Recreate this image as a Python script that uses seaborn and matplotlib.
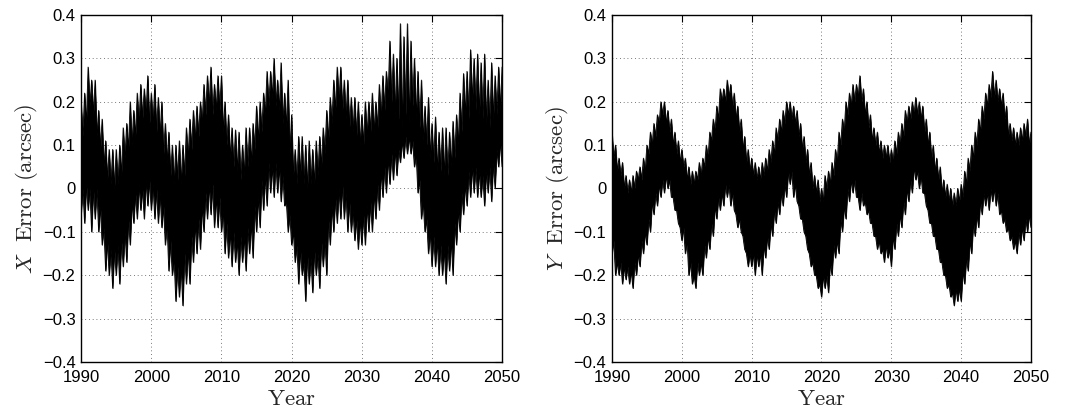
import numpy as np
import pandas as pd
import matplotlib
matplotlib.use("Agg")
import matplotlib.pyplot as plt
import seaborn as sns

# ---------------- data ----------------
# X error: spike tips every 0.5 yr (1990.0 ... 2050.0) and the body edge between them (t + 0.25)
x_upper_tips = [
    0.20, 0.22, 0.28, 0.25, 0.25, 0.18, 0.16, 0.11, 0.09, 0.09,
    0.09, 0.10, 0.14, 0.15, 0.20, 0.18, 0.22, 0.24, 0.23, 0.26,
    0.22, 0.24, 0.21, 0.20, 0.15, 0.13, 0.10, 0.10, 0.11, 0.10,
    0.14, 0.16, 0.18, 0.19, 0.20, 0.24, 0.26, 0.28, 0.24, 0.26,
    0.26, 0.20, 0.17, 0.14, 0.135, 0.13, 0.10, 0.14, 0.14, 0.15,
    0.19, 0.20, 0.22, 0.27, 0.27, 0.30, 0.25, 0.29, 0.22, 0.25,
    0.17, 0.09, 0.12, 0.12, 0.10, 0.11, 0.09, 0.11, 0.12, 0.14,
    0.18, 0.21, 0.25, 0.28, 0.28, 0.25, 0.25, 0.21, 0.21, 0.20,
    0.17, 0.20, 0.20, 0.22, 0.20, 0.24, 0.26, 0.27, 0.34, 0.31,
    0.30, 0.38, 0.35, 0.38, 0.34, 0.30, 0.27, 0.25, 0.19, 0.21,
    0.15, 0.165, 0.13, 0.14, 0.14, 0.13, 0.155, 0.17, 0.22, 0.265,
    0.27, 0.32, 0.30, 0.31, 0.29, 0.31, 0.25, 0.29, 0.26, 0.28,
    0.28,
]
x_upper_notches = [
    0.12, 0.15, 0.19, 0.17, 0.12, 0.09, 0.05, 0.02, 0.01, 0.00,
    0.01, 0.03, 0.07, 0.09, 0.10, 0.12, 0.15, 0.16, 0.17, 0.15,
    0.15, 0.13, 0.12, 0.08, 0.06, 0.03, 0.01, 0.02, 0.01, 0.03,
    0.07, 0.09, 0.11, 0.12, 0.15, 0.17, 0.19, 0.17, 0.18, 0.18,
    0.13, 0.10, 0.07, 0.05, 0.04, 0.02, 0.03, 0.05, 0.06, 0.09,
    0.11, 0.13, 0.17, 0.19, 0.21, 0.19, 0.18, 0.15, 0.14, 0.08,
    0.03, 0.01, 0.03, 0.01, 0.00, 0.01, 0.01, 0.03, 0.05, 0.08,
    0.11, 0.15, 0.18, 0.20, 0.18, 0.16, 0.14, 0.13, 0.12, 0.10,
    0.10, 0.12, 0.13, 0.13, 0.14, 0.16, 0.18, 0.21, 0.20, 0.17,
    0.16, 0.14, 0.17, 0.15, 0.19, 0.16, 0.14, 0.11, 0.10, 0.07,
    0.06, 0.04, 0.04, 0.03, 0.03, 0.05, 0.07, 0.10, 0.13, 0.17,
    0.16, 0.20, 0.18, 0.17, 0.16, 0.15, 0.14, 0.16, 0.17, 0.18,
]
x_lower_tips = [
    -0.06, -0.08, -0.05, -0.10, -0.07, -0.10, -0.13, -0.19, -0.20, -0.23,
    -0.20, -0.22, -0.18, -0.17, -0.13, -0.08, -0.07, -0.05, -0.07, -0.04,
    -0.05, -0.07, -0.08, -0.09, -0.13, -0.19, -0.20, -0.26, -0.25, -0.27,
    -0.22, -0.22, -0.17, -0.15, -0.14, -0.10, -0.07, -0.06, -0.09, -0.09,
    -0.10, -0.15, -0.16, -0.18, -0.17, -0.20, -0.17, -0.19, -0.15, -0.16,
    -0.10, -0.09, -0.05, -0.04, -0.01, -0.02, -0.01, -0.03, -0.04, -0.10,
    -0.13, -0.17, -0.22, -0.20, -0.26, -0.22, -0.24, -0.20, -0.23, -0.18,
    -0.20, -0.13, -0.10, -0.08, -0.07, -0.07, -0.10, -0.10, -0.12, -0.14,
    -0.13, -0.13, -0.10, -0.10, -0.07, -0.05, -0.02, -0.01, 0.01, 0.02,
    0.03, 0.06, 0.07, 0.08, 0.08, 0.05, -0.01, -0.07, -0.10, -0.15,
    -0.18, -0.18, -0.20, -0.20, -0.22, -0.19, -0.20, -0.13, -0.10, -0.06,
    -0.04, -0.02, -0.01, -0.02, -0.02, -0.04, -0.01, -0.03, 0.00, 0.05,
    0.05,
]
x_lower_notches = [
    0.00, 0.01, 0.00, 0.00, 0.00, -0.04, -0.09, -0.12, -0.14, -0.14,
    -0.13, -0.12, -0.10, -0.07, -0.03, -0.01, 0.01, 0.00, 0.02, 0.02,
    0.01, 0.00, -0.01, -0.04, -0.08, -0.12, -0.16, -0.18, -0.18, -0.15,
    -0.14, -0.11, -0.08, -0.07, -0.04, -0.01, 0.01, 0.01, -0.02, -0.02,
    -0.05, -0.08, -0.10, -0.10, -0.12, -0.11, -0.11, -0.09, -0.08, -0.04,
    -0.02, 0.02, 0.03, 0.06, 0.05, 0.06, 0.05, 0.03, -0.03, -0.06,
    -0.10, -0.13, -0.14, -0.17, -0.15, -0.16, -0.14, -0.15, -0.12, -0.12,
    -0.07, -0.04, -0.02, 0.00, 0.01, -0.01, -0.03, -0.05, -0.07, -0.07,
    -0.06, -0.04, -0.03, -0.01, 0.01, 0.04, 0.05, 0.07, 0.08, 0.09,
    0.09, 0.11, 0.12, 0.12, 0.11, 0.08, 0.02, -0.03, -0.07, -0.10,
    -0.11, -0.12, -0.13, -0.14, -0.13, -0.12, -0.08, -0.05, -0.01, 0.01,
    0.04, 0.05, 0.05, 0.04, 0.03, 0.04, 0.05, 0.06, 0.09, 0.11,
]

# Y error: envelope tips every 0.5 yr (1990.0 ... 2050.0) and body edge between them (t + 0.25)
y_upper_tips = [
    0.13, 0.10, 0.07, 0.06, 0.03, 0.02, 0.03, 0.04, 0.05, 0.07,
    0.10, 0.13, 0.15, 0.17, 0.20, 0.20, 0.18, 0.16, 0.13, 0.11,
    0.09, 0.07, 0.05, 0.04, 0.04, 0.06, 0.07, 0.10, 0.13, 0.16,
    0.19, 0.23, 0.23, 0.25, 0.24, 0.22, 0.19, 0.16, 0.12, 0.09,
    0.07, 0.06, 0.05, 0.06, 0.07, 0.09, 0.11, 0.14, 0.16, 0.18,
    0.20, 0.20, 0.19, 0.18, 0.15, 0.12, 0.09, 0.06, 0.03, 0.02,
    0.00, 0.03, 0.04, 0.06, 0.09, 0.13, 0.16, 0.20, 0.22, 0.24,
    0.24, 0.26, 0.23, 0.20, 0.17, 0.14, 0.13, 0.11, 0.10, 0.10,
    0.09, 0.11, 0.13, 0.15, 0.18, 0.19, 0.20, 0.21, 0.20, 0.19,
    0.16, 0.13, 0.10, 0.07, 0.05, 0.02, 0.01, 0.00, -0.01, 0.00,
    0.01, 0.04, 0.07, 0.10, 0.13, 0.16, 0.19, 0.22, 0.24, 0.27,
    0.25, 0.23, 0.22, 0.19, 0.15, 0.14, 0.13, 0.14, 0.15, 0.16,
    0.13,
]
y_upper_notches = [
    0.07, 0.04, 0.03, 0.00, -0.01, -0.01, 0.00, 0.02, 0.02, 0.04,
    0.08, 0.10, 0.12, 0.15, 0.17, 0.15, 0.13, 0.10, 0.08, 0.06,
    0.05, 0.02, 0.01, 0.01, 0.02, 0.03, 0.05, 0.07, 0.11, 0.13,
    0.16, 0.20, 0.20, 0.21, 0.19, 0.16, 0.13, 0.09, 0.06, 0.04,
    0.03, 0.02, 0.02, 0.03, 0.04, 0.06, 0.08, 0.11, 0.13, 0.15,
    0.17, 0.16, 0.15, 0.12, 0.09, 0.06, 0.03, 0.00, -0.01, -0.03,
    -0.03, 0.00, 0.01, 0.03, 0.06, 0.10, 0.13, 0.17, 0.19, 0.20,
    0.21, 0.20, 0.17, 0.14, 0.11, 0.10, 0.08, 0.07, 0.07, 0.06,
    0.06, 0.08, 0.10, 0.12, 0.15, 0.16, 0.17, 0.17, 0.16, 0.13,
    0.10, 0.07, 0.04, 0.02, -0.01, -0.02, -0.03, -0.04, -0.04, -0.03,
    -0.02, 0.01, 0.04, 0.07, 0.10, 0.13, 0.16, 0.19, 0.21, 0.21,
    0.20, 0.19, 0.16, 0.12, 0.11, 0.10, 0.10, 0.11, 0.12, 0.10,
]
y_lower_tips = [
    -0.15, -0.20, -0.20, -0.22, -0.21, -0.22, -0.23, -0.20, -0.18, -0.15,
    -0.13, -0.10, -0.06, -0.04, -0.02, -0.01, 0.00, -0.02, -0.05, -0.08,
    -0.12, -0.15, -0.20, -0.22, -0.23, -0.20, -0.20, -0.16, -0.14, -0.11,
    -0.07, -0.05, -0.04, -0.02, -0.04, -0.05, -0.09, -0.10, -0.14, -0.18,
    -0.18, -0.20, -0.18, -0.20, -0.16, -0.14, -0.11, -0.08, -0.06, -0.04,
    -0.02, 0.01, -0.02, -0.03, -0.07, -0.10, -0.14, -0.18, -0.20, -0.23,
    -0.25, -0.23, -0.24, -0.20, -0.16, -0.15, -0.10, -0.07, -0.03, -0.01,
    -0.02, -0.05, -0.04, -0.06, -0.08, -0.11, -0.14, -0.15, -0.17, -0.16,
    -0.18, -0.14, -0.11, -0.09, -0.06, -0.03, -0.01, 0.02, 0.00, -0.01,
    -0.04, -0.08, -0.11, -0.14, -0.17, -0.20, -0.23, -0.25, -0.27, -0.26,
    -0.26, -0.22, -0.19, -0.15, -0.11, -0.09, -0.06, -0.04, -0.05, -0.03,
    -0.04, -0.06, -0.08, -0.10, -0.12, -0.14, -0.15, -0.13, -0.12, -0.10,
    -0.09,
]
y_lower_notches = [
    -0.12, -0.17, -0.17, -0.18, -0.18, -0.19, -0.17, -0.15, -0.12, -0.10,
    -0.07, -0.03, -0.01, 0.01, 0.02, 0.03, 0.02, -0.02, -0.05, -0.09,
    -0.09, -0.12, -0.17, -0.20, -0.17, -0.17, -0.13, -0.11, -0.08, -0.04,
    -0.02, -0.01, 0.01, 0.01, -0.01, -0.06, -0.07, -0.11, -0.15, -0.15,
    -0.15, -0.15, -0.15, -0.13, -0.11, -0.08, -0.05, -0.03, -0.01, 0.01,
    0.04, 0.04, 0.01, -0.04, -0.07, -0.11, -0.15, -0.17, -0.20, -0.22,
    -0.20, -0.20, -0.17, -0.13, -0.12, -0.07, -0.04, 0.00, 0.02, 0.02,
    -0.02, -0.01, -0.03, -0.05, -0.08, -0.11, -0.12, -0.14, -0.13, -0.14,
    -0.11, -0.08, -0.06, -0.03, 0.00, 0.02, 0.05, 0.04, 0.03, -0.01,
    -0.05, -0.08, -0.11, -0.14, -0.17, -0.20, -0.22, -0.24, -0.23, -0.23,
    -0.19, -0.16, -0.12, -0.08, -0.06, -0.03, -0.01, -0.01, 0.00, 0.00,
    -0.01, -0.05, -0.07, -0.09, -0.11, -0.12, -0.10, -0.09, -0.07, -0.06,
]

x_ticks = [1990, 2000, 2010, 2020, 2030, 2040, 2050]
x_tick_labels = ["1990", "2000", "2010", "2020", "2030", "2040", "2050"]
y_ticks = [0.4, 0.3, 0.2, 0.1, 0.0, -0.1, -0.2, -0.3, -0.4]
y_tick_labels = ["0.4", "0.3", "0.2", "0.1", "0", "\u22120.1", "\u22120.2", "\u22120.3", "\u22120.4"]
y_labels = [r"$X\ \ \mathrm{Error\ (arcsec)}$", r"$Y\ \ \mathrm{Error\ (arcsec)}$"]
x_label = r"$\mathrm{Year}$"


# ---------------- build series (interleave tips and body-edge values) ----------------
def interleave(tips, notches):
    out = np.empty(len(tips) + len(notches))
    out[0::2] = tips
    out[1::2] = notches
    return out


t_quarter = 1990 + 0.25 * np.arange(2 * len(x_upper_tips) - 1)

df_x = pd.DataFrame({"Year": t_quarter,
                     "upper": interleave(x_upper_tips, x_upper_notches),
                     "lower": interleave(x_lower_tips, x_lower_notches)})
df_y = pd.DataFrame({"Year": t_quarter,
                     "upper": interleave(y_upper_tips, y_upper_notches),
                     "lower": interleave(y_lower_tips, y_lower_notches)})

# ---------------- style ----------------
sns.set_theme(style="white")
plt.rcParams["font.family"] = ["Liberation Sans", "DejaVu Sans"]
plt.rcParams["mathtext.fontset"] = "cm"
plt.rcParams["axes.unicode_minus"] = True

fig = plt.figure(figsize=(10.65, 4.12), dpi=100)
ax1 = fig.add_axes([0.0761, 0.1214, 0.3953, 0.8422])
ax2 = fig.add_axes([0.5746, 0.1214, 0.3934, 0.8422])

for ax, df, ylab in [(ax1, df_x, y_labels[0]), (ax2, df_y, y_labels[1])]:
    ax.set_facecolor("white")
    ax.fill_between(df["Year"], df["lower"], df["upper"], color="black",
                    linewidth=0.5, edgecolor="black", zorder=3)
    sns.lineplot(data=df, x="Year", y="upper", ax=ax, color="black", lw=0.6, zorder=3)
    sns.lineplot(data=df, x="Year", y="lower", ax=ax, color="black", lw=0.6, zorder=3)

    ax.set_xlim(1990, 2050)
    ax.set_ylim(-0.4, 0.4)
    ax.set_xticks(x_ticks)
    ax.set_xticklabels(x_tick_labels)
    ax.set_yticks(y_ticks)
    ax.set_yticklabels(y_tick_labels)
    ax.grid(True, color="black", linestyle=(0, (1, 3.5)), linewidth=0.6, alpha=0.7, zorder=1)
    ax.set_axisbelow(True)
    ax.tick_params(direction="in", length=5, width=0.8, top=True, right=True,
                   labelsize=12, colors="black")
    ax.tick_params(axis="x", pad=6)
    ax.tick_params(axis="y", pad=4)
    for sp in ax.spines.values():
        sp.set_color("black")
        sp.set_linewidth(1.0)
        sp.set_visible(True)
        sp.set_zorder(5)
    ax.set_xlabel(x_label, fontsize=16.5, labelpad=1)
    ax.set_ylabel(ylab, fontsize=16.5, labelpad=2)

fig.savefig("out.png", dpi=100, facecolor="white")
